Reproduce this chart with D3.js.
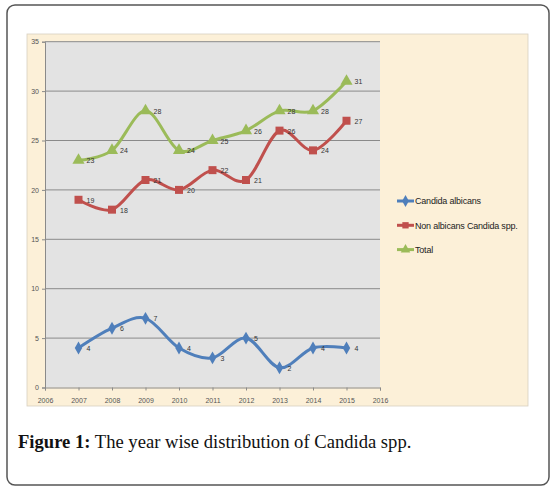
<!DOCTYPE html>
<html>
<head>
<meta charset="utf-8">
<script src="https://cdn.jsdelivr.net/npm/d3@7"></script>
<style>
  body { margin: 0; background: #fff; }
  svg { display: block; }
</style>
</head>
<body>
<svg id="chart" width="553" height="491"></svg>
<script>
// chart data
var years = [2007, 2008, 2009, 2010, 2011, 2012, 2013, 2014, 2015];
var albicans = [4, 6, 7, 4, 3, 5, 2, 4, 4];
var nonAlbicans = [19, 18, 21, 20, 22, 21, 26, 24, 27];
var total = [23, 24, 28, 24, 25, 26, 28, 28, 31];
var seriesNames = ["Candida albicans", "Non albicans Candida spp.", "Total"];
var xTicks = [2006, 2007, 2008, 2009, 2010, 2011, 2012, 2013, 2014, 2015, 2016];
var yTicks = [0, 5, 10, 15, 20, 25, 30, 35];

var colors = ["#4f7fbb", "#c0504d", "#9bbb59"];
var shapes = [d3.symbolDiamond, d3.symbolSquare, d3.symbolTriangle];
var allSeries = [albicans, nonAlbicans, total];

var svg = d3.select('#chart');

// outer frame
svg.append('rect')
   .attr('x', 7).attr('y', 5)
   .attr('width', 542).attr('height', 480)
   .attr('rx', 8).attr('ry', 8)
   .attr('fill', '#fff')
   .attr('stroke', '#555').attr('stroke-width', 1.5);

// beige chart panel
svg.append('rect')
   .attr('x', 27).attr('y', 34)
   .attr('width', 501).attr('height', 372)
   .attr('fill', '#fcf0d8')
   .attr('stroke', '#d8cfc0').attr('stroke-width', 0.8);

var plot = {left: 45, top: 41.7, right: 380, bottom: 387.5};

var x = d3.scaleLinear().domain([2006, 2016]).range([plot.left, plot.right]);
var y = d3.scaleLinear().domain([0, 35]).range([plot.bottom, plot.top]);

svg.append('rect')
   .attr('x', plot.left).attr('y', plot.top)
   .attr('width', plot.right - plot.left).attr('height', plot.bottom - plot.top)
   .attr('fill', '#e3e3e3');

// gridlines
svg.append('g')
   .selectAll('line').data(yTicks.slice(1)).enter().append('line')
   .attr('x1', plot.left).attr('x2', plot.right)
   .attr('y1', function(d){ return y(d); })
   .attr('y2', function(d){ return y(d); })
   .attr('stroke', '#8a8a8a').attr('stroke-width', 1);

// axes
var xAxis = svg.append('g')
   .attr('transform', 'translate(0,' + plot.bottom + ')')
   .call(d3.axisBottom(x).tickValues(xTicks).tickFormat(d3.format('d')).tickSize(3));
var yAxis = svg.append('g')
   .attr('transform', 'translate(' + plot.left + ',0)')
   .call(d3.axisLeft(y).tickValues(yTicks).tickSize(3));

[xAxis, yAxis].forEach(function(ax){
  ax.select('.domain').attr('stroke', '#8a8a8a');
  ax.selectAll('.tick line').attr('stroke', '#8a8a8a');
  ax.selectAll('text')
    .attr('fill', '#555')
    .style('font-family', 'Liberation Sans, Arial, sans-serif')
    .style('font-size', '7px');
});
xAxis.selectAll('text').attr('dy', '1.3em');
yAxis.selectAll('text').attr('x', -6);

// lines
var line = d3.line()
  .x(function(d, i){ return x(years[i]); })
  .y(function(d){ return y(d); })
  .curve(d3.curveCardinal.tension(0));

allSeries.forEach(function(vals, s){
  var g = svg.append('g');
  g.append('path')
   .datum(vals)
   .attr('d', line)
   .attr('fill', 'none')
   .attr('stroke', colors[s])
   .attr('stroke-width', 3)
   .attr('stroke-linecap', 'round');

  g.selectAll('path.mk').data(vals).enter().append('path')
   .classed('mk', true)
   .attr('d', d3.symbol().type(shapes[s]).size(s == 0 ? 48 : 64))
   .attr('transform', function(d, i){ return 'translate(' + x(years[i]) + ',' + y(d) + ')'; })
   .attr('fill', colors[s]);

  g.selectAll('text').data(vals).enter().append('text')
   .attr('x', function(d, i){ return x(years[i]) + 8; })
   .attr('y', function(d){ return y(d) + 3; })
   .text(function(d){ return d; })
   .attr('fill', '#333')
   .style('font-family', 'Liberation Sans, Arial, sans-serif')
   .style('font-size', '7px');
});

// legend
var legend = svg.append('g');
seriesNames.forEach(function(name, s){
  var ly = 201 + s * 24.3;
  legend.append('line')
    .attr('x1', 397).attr('x2', 414)
    .attr('y1', ly).attr('y2', ly)
    .attr('stroke', colors[s]).attr('stroke-width', 3);
  legend.append('path')
    .attr('d', d3.symbol().type(shapes[s]).size(40))
    .attr('transform', 'translate(405.5,' + ly + ')')
    .attr('fill', colors[s]);
  legend.append('text')
    .attr('x', 415).attr('y', ly + 3.3)
    .text(name)
    .attr('fill', '#222')
    .style('font-family', 'Liberation Sans, Arial, sans-serif')
    .style('font-size', '9px')
    .style('letter-spacing', '-0.2px');
});

// caption
var cap = svg.append('text')
  .attr('x', 18).attr('y', 448)
  .attr('fill', '#111')
  .style('font-family', 'Liberation Serif, Times New Roman, serif')
  .style('font-size', '18.6px');
cap.append('tspan').style('font-weight', 'bold').text('Figure 1:');
cap.append('tspan').text(' The year wise distribution of Candida spp.');
</script>
</body>
</html>
